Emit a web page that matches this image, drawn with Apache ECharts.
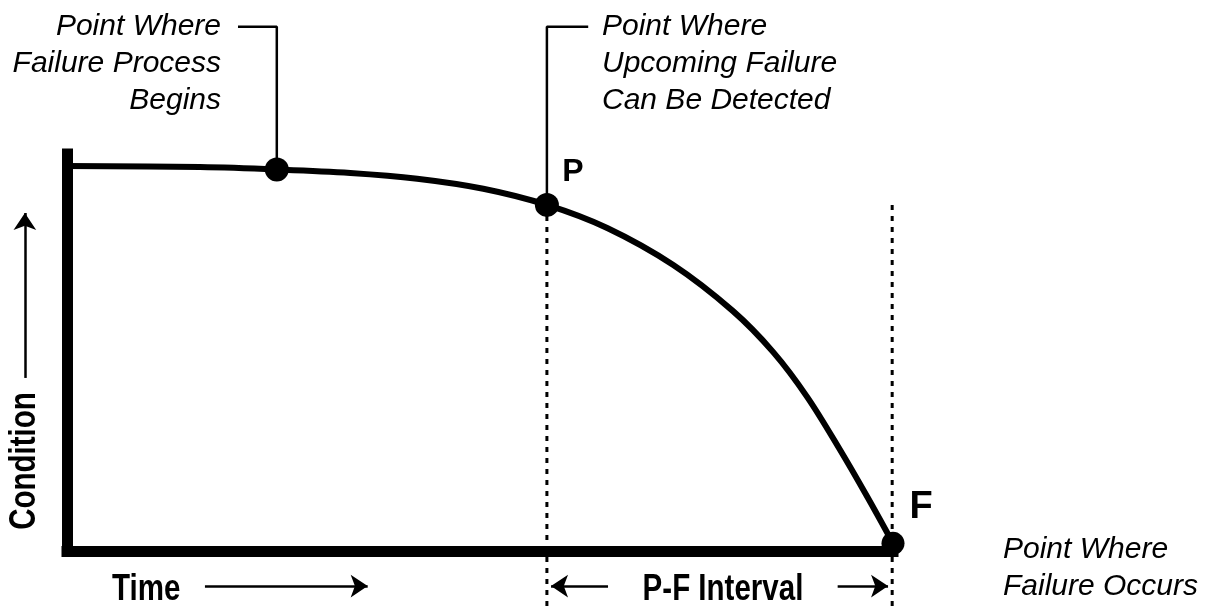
<!DOCTYPE html>
<html>
<head>
<meta charset="utf-8">
<title>P-F Curve</title>
<script src="https://cdn.jsdelivr.net/npm/echarts@6/dist/echarts.min.js"></script>
<style>
html, body { margin: 0; padding: 0; background: #fff; }
#PFChart { width: 1207px; height: 608px; }
</style>
</head>
<body>
<div id="PFChart"></div>
<script>
// time 0..100 runs from the condition axis to the failure point, condition 0..100
const curveTime = [0, 16.1, 25.4, 34.3, 42.4, 50.4, 58.1, 65.4, 73.4, 80.6, 85.5, 89.6, 93.6, 96.9, 100];
const curveCondition = [99.9, 99.6, 99.0, 98.1, 96.6, 94.0, 89.8, 83.8, 74.2, 62.3, 51.6, 40.0, 26.2, 14.0, 2];

// process begins, P (detectable), F (failure)
const pointNames = ["", "P", "F"];
const pointTime = [25.4, 58.1, 100];
const pointCondition = [99.0, 89.8, 2];

const calloutTop = 136; // condition level of the callout leaders
const axisBelow = -15;  // how far the dotted guides run below the time axis

let curveData = curveTime.map((t, i) => [t, curveCondition[i]]);

let chart = echarts.init(document.getElementById("PFChart"), null, { renderer: "canvas" });

const ink = "#000";
const italic = 'italic 30px "Liberation Sans", Arial, sans-serif';
const bold = 'bold 36px "Liberation Sans", Arial, sans-serif';
const narrow = 0.82; // squeeze for the condensed bold captions

let option = {
  backgroundColor: "#fff",
  animation: false,
  grid: { left: 67, top: 154, width: 826, height: 397 },
  xAxis: {
    type: "value",
    min: 0,
    max: 100,
    axisLine: { show: true, lineStyle: { color: ink, width: 11, cap: "square" } },
    axisTick: { show: false },
    axisLabel: { show: false },
    splitLine: { show: false }
  },
  yAxis: {
    type: "value",
    min: 0,
    max: 103,
    axisLine: { show: true, lineStyle: { color: ink, width: 11, cap: "square" } },
    axisTick: { show: false },
    axisLabel: { show: false },
    splitLine: { show: false }
  },
  series: [
    {
      // dotted guides at P and F
      type: "line",
      clip: false,
      symbol: "none",
      lineStyle: { color: ink, width: 3, type: [5, 6] },
      data: [[pointTime[1], pointCondition[1]], [pointTime[1], axisBelow]]
    },
    {
      type: "line",
      clip: false,
      symbol: "none",
      lineStyle: { color: ink, width: 3, type: [5, 6] },
      data: [[99.9, pointCondition[1]], [99.9, axisBelow]]
    },
    {
      // callout leaders
      type: "line",
      clip: false,
      symbol: "none",
      lineStyle: { color: ink, width: 2.5 },
      data: [[20.7, calloutTop], [pointTime[0], calloutTop], [pointTime[0], pointCondition[0]]]
    },
    {
      type: "line",
      clip: false,
      symbol: "none",
      lineStyle: { color: ink, width: 2.5 },
      data: [[pointTime[1], pointCondition[1]], [pointTime[1], calloutTop], [63.1, calloutTop]]
    },
    {
      type: "line",
      clip: false,
      symbol: "none",
      lineStyle: { color: ink, width: 2.5 },
      data: [[pointTime[2], pointCondition[2]], [111.1, pointCondition[2]]]
    },
    {
      name: "Condition",
      type: "line",
      clip: false,
      smooth: 0.35,
      symbol: "none",
      lineStyle: { color: ink, width: 6 },
      data: curveData
    },
    {
      type: "scatter",
      clip: false,
      symbolSize: 24,
      itemStyle: { color: ink, opacity: 1 },
      label: {
        show: true,
        position: "inside",
        color: ink,
        fontFamily: "Liberation Sans",
        fontWeight: "bold",
        fontSize: 32,
        formatter: p => pointNames[p.dataIndex]
      },
      data: [
        { value: [pointTime[0], pointCondition[0]] },
        { value: [pointTime[1], pointCondition[1]], label: { offset: [26, -33] } },
        { value: [pointTime[2], pointCondition[2]], symbolSize: 23, label: { fontSize: 38, offset: [28, -36] } }
      ]
    },
    {
      // direction arrows
      type: "lines",
      coordinateSystem: "cartesian2d",
      clip: false,
      symbol: ["none", "arrow"],
      symbolSize: 17,
      lineStyle: { color: ink, width: 2.5, opacity: 1, curveness: 0 },
      data: [
        { coords: [[16.7, -9.1], [36.4, -9.1]] },
        { coords: [[-5.1, 44.9], [-5.1, 87.7]] },
        { coords: [[65.5, -9.1], [58.6, -9.1]] },
        { coords: [[93.3, -9.1], [99.4, -9.1]] }
      ]
    }
  ],
  graphic: [
    {
      type: "text",
      style: { text: "Point Where\nFailure Process\nBegins", x: 221, y: 64, fill: ink, font: italic, align: "right", verticalAlign: "middle", lineHeight: 37 }
    },
    {
      type: "text",
      style: { text: "Point Where\nUpcoming Failure\nCan Be Detected", x: 602, y: 64, fill: ink, font: italic, align: "left", verticalAlign: "middle", lineHeight: 37 }
    },
    {
      type: "text",
      style: { text: "Point Where\nFailure Occurs", x: 1003, y: 568, fill: ink, font: italic, align: "left", verticalAlign: "middle", lineHeight: 37 }
    },
    {
      type: "text",
      x: 112,
      y: 590,
      scaleX: narrow,
      style: { text: "Time", x: 0, y: 0, fill: ink, font: bold, align: "left", verticalAlign: "middle" }
    },
    {
      type: "text",
      x: 723,
      y: 590,
      scaleX: narrow,
      style: { text: "P-F Interval", x: 0, y: 0, fill: ink, font: bold, align: "center", verticalAlign: "middle" }
    },
    {
      type: "text",
      x: 25,
      y: 461,
      rotation: Math.PI / 2,
      scaleX: narrow,
      style: { text: "Condition", x: 0, y: 0, fill: ink, font: bold, align: "center", verticalAlign: "middle" }
    }
  ]
};

chart.setOption(option);
</script>
</body>
</html>
